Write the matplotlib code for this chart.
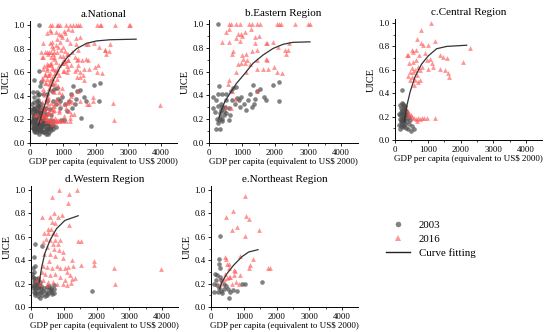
import numpy as np
import matplotlib
matplotlib.use("Agg")
import matplotlib.pyplot as plt
from matplotlib.lines import Line2D

plt.rcParams['font.family'] = ['Liberation Serif', 'DejaVu Serif']

# ---------------- data (GDP per capita, UICE) ----------------
east_2003 = [(270, 1.0), (120, 0.39), (120, 0.29), (220, 0.36), (270, 0.415), (300, 0.48),
             (320, 0.25), (350, 0.275), (405, 0.30), (250, 0.205), (270, 0.165), (220, 0.12),
             (320, 0.12), (300, 0.19), (385, 0.205), (405, 0.185), (455, 0.235), (530, 0.25),
             (610, 0.195), (630, 0.235), (505, 0.36), (530, 0.415), (405, 0.415), (660, 0.44),
             (730, 0.46), (810, 0.47), (710, 0.36), (850, 0.375), (910, 0.36), (980, 0.39),
             (780, 0.33), (930, 0.30), (1060, 0.33), (1130, 0.275), (1180, 0.36), (1240, 0.415),
             (1290, 0.30), (1360, 0.33), (1390, 0.37), (1320, 0.485), (1440, 0.44), (1660, 0.39),
             (1720, 0.36), (1940, 0.49), (2130, 0.51), (2110, 0.355), (1540, 0.45), (610, 0.29),
             (475, 0.30), (170, 0.26), (350, 0.33), (260, 0.31), (440, 0.27), (330, 0.22)]
east_2016 = [(600, 1.0), (660, 1.0), (810, 1.0), (930, 1.0), (1210, 1.0), (1310, 1.0), (1460, 1.0),
             (1540, 1.0), (2050, 1.0), (2130, 1.0), (2170, 1.0), (2600, 1.0), (3010, 1.0), (3060, 1.0),
             (530, 0.935), (620, 0.955), (405, 0.85), (610, 0.85), (830, 0.885), (880, 0.92),
             (960, 0.915), (990, 0.895), (930, 0.86), (1080, 0.935), (1270, 0.955), (1390, 0.89),
             (1520, 0.90), (1390, 0.84), (1460, 0.785), (1290, 0.775), (1130, 0.75), (730, 0.77),
             (700, 0.75), (1030, 0.71), (1080, 0.675), (980, 0.675), (1150, 0.70), (1000, 0.74),
             (880, 0.66), (1240, 0.66), (830, 0.60), (1130, 0.60), (1440, 0.70), (1440, 0.625),
             (1640, 0.625), (1790, 0.625), (1970, 0.64), (2050, 0.60), (1720, 0.84), (1760, 0.84),
             (1940, 0.85), (2100, 0.81), (2300, 0.785), (2400, 0.78), (2330, 0.75), (2430, 0.84),
             (1720, 0.71), (1770, 0.70), (600, 0.53), (580, 0.50), (710, 0.44), (780, 0.37),
             (530, 0.30), (680, 0.29), (1460, 0.44), (2200, 0.59)]

central_2003 = [(150, 0.30), (200, 0.32), (250, 0.31), (300, 0.29), (180, 0.27), (220, 0.26),
                (260, 0.27), (320, 0.26), (170, 0.24), (210, 0.23), (240, 0.22), (280, 0.24),
                (350, 0.25), (160, 0.21), (200, 0.20), (230, 0.19), (270, 0.20), (310, 0.21),
                (380, 0.22), (150, 0.18), (190, 0.17), (220, 0.16), (250, 0.17), (290, 0.18),
                (340, 0.19), (420, 0.20), (170, 0.15), (210, 0.14), (260, 0.15), (300, 0.14),
                (360, 0.16), (450, 0.17), (120, 0.13), (180, 0.12), (230, 0.11), (280, 0.12),
                (330, 0.10), (400, 0.09), (480, 0.08), (150, 0.09), (520, 0.12), (440, 0.14),
                (214, 0.43), (260, 0.29), (130, 0.22), (570, 0.09)]
central_2016 = [(1090, 1.0), (785, 0.94), (680, 0.86), (1220, 0.85), (795, 0.83), (865, 0.815),
                (1020, 0.815), (405, 0.73), (355, 0.725), (510, 0.77), (560, 0.75), (640, 0.77),
                (745, 0.725), (640, 0.68), (540, 0.665), (440, 0.655), (510, 0.615), (560, 0.58),
                (460, 0.58), (610, 0.595), (715, 0.625), (765, 0.595), (815, 0.625), (660, 0.555),
                (510, 0.54), (405, 0.545), (460, 0.51), (610, 0.51), (765, 0.51), (715, 0.50),
                (590, 0.47), (970, 0.68), (1070, 0.695), (1120, 0.655), (1020, 0.61), (1170, 0.625),
                (1375, 0.725), (1475, 0.71), (1580, 0.705), (1375, 0.61), (1525, 0.60), (1630, 0.575),
                (1660, 0.535), (2065, 0.665), (2290, 0.79), (915, 0.74),
                (366, 0.256), (437, 0.228), (519, 0.20), (570, 0.185), (641, 0.177), (702, 0.185),
                (753, 0.177), (824, 0.185), (896, 0.185), (977, 0.185), (1232, 0.19), (499, 0.214),
                (397, 0.208), (672, 0.162)]

west_2003 = [(60, 0.26), (100, 0.25), (150, 0.24), (200, 0.25), (80, 0.22), (120, 0.21), (170, 0.22),
             (220, 0.23), (260, 0.21), (50, 0.19), (100, 0.18), (140, 0.19), (180, 0.20), (230, 0.19),
             (300, 0.18), (70, 0.16), (110, 0.15), (150, 0.16), (200, 0.17), (250, 0.16), (320, 0.15),
             (400, 0.16), (480, 0.17), (550, 0.15), (90, 0.13), (130, 0.12), (180, 0.13), (240, 0.12),
             (300, 0.13), (380, 0.14), (450, 0.13), (520, 0.12), (600, 0.13), (650, 0.11), (700, 0.12),
             (560, 0.18), (620, 0.165), (120, 0.10), (200, 0.09), (280, 0.08), (350, 0.10), (430, 0.09),
             (500, 0.10), (100, 0.30), (60, 0.33), (130, 0.35), (90, 0.43), (120, 0.537), (345, 0.52),
             (1870, 0.14), (600, 0.145), (700, 0.15), (40, 0.28), (700, 0.185)]
west_2016 = [(850, 1.0), (1390, 1.0), (1170, 0.97), (650, 0.94), (1115, 0.885), (935, 0.785),
             (710, 0.805), (580, 0.77), (325, 0.77), (830, 0.77), (650, 0.73), (730, 0.715),
             (1170, 0.705), (510, 0.67), (600, 0.67), (395, 0.63), (525, 0.635), (680, 0.635),
             (760, 0.62), (455, 0.585), (580, 0.575), (730, 0.575), (900, 0.575), (375, 0.555),
             (680, 0.54), (830, 0.54), (500, 0.51), (710, 0.50), (865, 0.485), (985, 0.47),
             (1440, 0.56), (1540, 0.56), (395, 0.455), (580, 0.455), (730, 0.435), (560, 0.39),
             (965, 0.415), (1240, 0.40), (355, 0.35), (475, 0.345), (630, 0.335), (800, 0.35),
             (885, 0.335), (1035, 0.33), (1135, 0.345), (1290, 0.35), (1540, 0.355), (1930, 0.39),
             (1930, 0.357), (2540, 0.337), (3960, 0.326), (2560, 0.194), (325, 0.30), (425, 0.286),
             (580, 0.27), (730, 0.28), (885, 0.26), (1085, 0.30), (1190, 0.27), (1240, 0.243),
             (1340, 0.25), (1035, 0.23), (375, 0.23), (530, 0.214), (780, 0.194), (680, 0.214),
             (225, 0.243), (150, 0.234), (275, 0.20), (475, 0.186), (965, 0.194), (1085, 0.186),
             (1220, 0.209)]

ne_2003 = [(285, 0.606), (235, 0.406), (255, 0.366), (285, 0.337), (130, 0.286), (185, 0.27),
           (265, 0.257), (305, 0.23), (165, 0.23), (80, 0.194), (185, 0.186), (235, 0.163),
           (200, 0.13), (305, 0.137), (385, 0.157), (470, 0.177), (520, 0.157), (590, 0.13),
           (540, 0.08), (670, 0.143), (795, 0.137), (945, 0.194), (1030, 0.194), (1555, 0.21),
           (335, 0.12), (80, 0.13), (405, 0.20)]
ne_2016 = [(1030, 0.95), (670, 0.82), (470, 0.77), (1080, 0.78), (1150, 0.75), (795, 0.686),
           (640, 0.66), (1455, 0.66), (1050, 0.606), (415, 0.43), (460, 0.41), (895, 0.434),
           (1280, 0.414), (1200, 0.357), (1150, 0.337), (1730, 0.33), (1790, 0.33), (490, 0.37),
           (550, 0.37), (540, 0.33), (690, 0.314), (745, 0.31), (875, 0.277), (590, 0.257),
           (690, 0.27), (490, 0.25), (385, 0.243), (440, 0.286), (540, 0.257), (775, 0.214),
           (640, 0.194), (845, 0.194), (335, 0.23), (265, 0.194)]

# fitted curves
fit_national = [(255, 0.15), (405, 0.28), (560, 0.42), (710, 0.53), (915, 0.64), (1120, 0.72),
                (1425, 0.80), (1730, 0.845), (2035, 0.865), (2440, 0.875), (3240, 0.88)]
fit_east = [(305, 0.213), (375, 0.275), (475, 0.345), (630, 0.415), (830, 0.50), (1085, 0.584),
            (1335, 0.67), (1640, 0.74), (1945, 0.795), (2250, 0.83), (2550, 0.846), (3060, 0.85)]
fit_central = [(285, 0.156), (355, 0.285), (460, 0.41), (610, 0.54), (815, 0.65), (1020, 0.72),
               (1270, 0.78), (1580, 0.80), (2190, 0.81)]
fit_west = [(255, 0.215), (325, 0.34), (425, 0.46), (580, 0.57), (780, 0.67), (1035, 0.74),
            (1440, 0.78)]
fit_ne = [(265, 0.157), (335, 0.214), (490, 0.286), (690, 0.357), (945, 0.43), (1150, 0.47),
          (1435, 0.49)]

titles = ["a.National", "b.Eastern Region", "c.Central Region", "d.Western Region", "e.Northeast Region"]
xlabel = "GDP per capita (equivalent to US$ 2000)"
ylabel = "UICE"
legend_labels = ["2003", "2016", "Curve fitting"]
xticks = [0, 1000, 2000, 3000, 4000]
yticks = [0.0, 0.2, 0.4, 0.6, 0.8, 1.0]

panels = [
    (east_2003 + central_2003 + west_2003 + ne_2003,
     east_2016 + central_2016 + west_2016 + ne_2016, fit_national),
    (east_2003, east_2016, fit_east),
    (central_2003, central_2016, fit_central),
    (west_2003, west_2016, fit_west),
    (ne_2003, ne_2016, fit_ne),
]

# ---------------- layout ----------------
W, H = 550, 332
fig = plt.figure(figsize=(5.5, 3.32), dpi=100)

# (x0 px, y of zero px, px per 1000, px per 1.0)
geom = [(30, 143, 32.75, 118), (209, 143, 33.0, 119), (395, 140, 32.75, 117),
        (31, 307, 32.75, 117), (211, 307, 32.75, 117)]
XMAX, YMAX = 4500, 1.03

gray = "#4d4d4d"
red = "#ff5050"

for i, ((x0, y0, px1000, py1), (d03, d16, fit)) in enumerate(zip(geom, panels)):
    w = XMAX / 1000 * px1000
    h = YMAX * py1
    ax = fig.add_axes([x0 / W, 1 - y0 / H, w / W, h / H])
    a03 = np.array(d03)
    a16 = np.array(d16)
    af = np.array(fit)
    ax.scatter(a03[:, 0], a03[:, 1], s=11, marker='o', color=gray, alpha=0.7, linewidths=0, zorder=2)
    ax.scatter(a16[:, 0], a16[:, 1], s=12, marker='^', color=red, alpha=0.6, linewidths=0, zorder=3)
    ax.plot(af[:, 0], af[:, 1], color="#333333", lw=0.9, zorder=4)
    ax.set_xlim(0, XMAX)
    ax.set_ylim(0, YMAX)
    ax.set_xticks(xticks)
    ax.set_yticks(yticks)
    ax.set_yticklabels([f"{v:.1f}" for v in yticks])
    ax.set_xticks([500, 1500, 2500, 3500], minor=True)
    ax.set_yticks([0.1, 0.3, 0.5, 0.7, 0.9], minor=True)
    ax.tick_params(which='major', length=2.5, width=0.6, labelsize=6.3, pad=1.5, direction='out')
    ax.tick_params(which='minor', length=1.5, width=0.5, direction='out')
    for s in ['top', 'right']:
        ax.spines[s].set_visible(False)
    for s in ['left', 'bottom']:
        ax.spines[s].set_linewidth(0.7)
    ax.set_title(titles[i], fontsize=8, pad=3)
    ax.set_xlabel(xlabel, fontsize=6.5, labelpad=1)
    ax.set_ylabel(ylabel, fontsize=7.5, labelpad=2)

handles = [Line2D([], [], marker='o', ls='none', color=gray, alpha=0.7, markersize=4, markeredgewidth=0),
           Line2D([], [], marker='^', ls='none', color=red, alpha=0.6, markersize=4.5, markeredgewidth=0),
           Line2D([], [], color="#222222", lw=1.0)]
fig.legend(handles, legend_labels, loc='upper left', bbox_to_anchor=(382 / W, 1 - 216 / H),
           frameon=False, fontsize=7.8, handlelength=2.2, handletextpad=0.8, labelspacing=0.4,
           borderaxespad=0)

fig.savefig("out.png", dpi=100)
